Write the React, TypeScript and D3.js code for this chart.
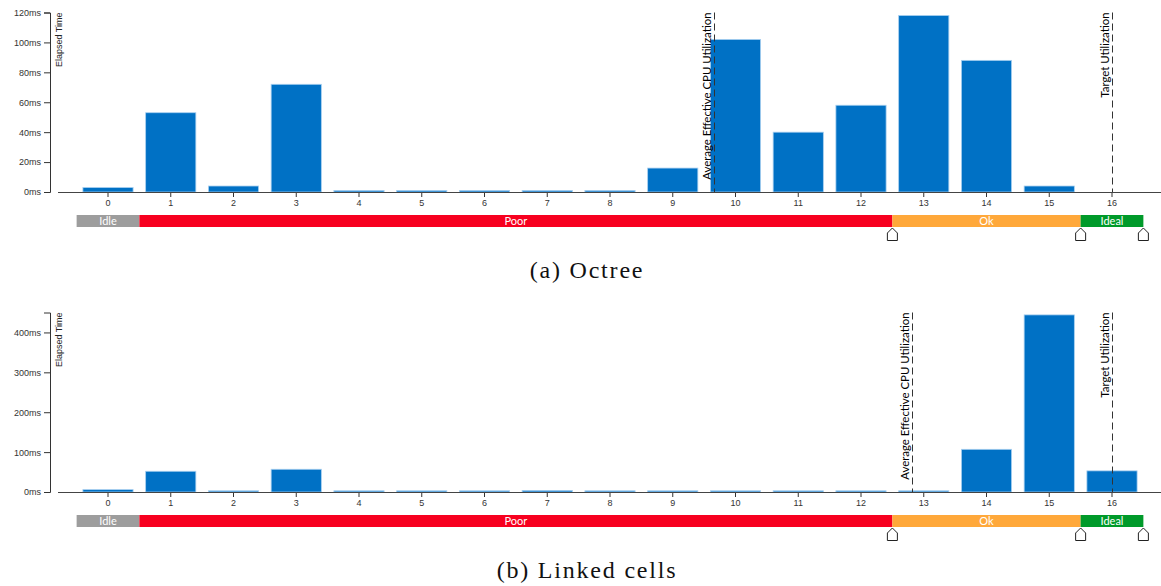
import { useEffect, useRef } from "react";
import * as d3 from "d3";

const threadCounts = ["0", "1", "2", "3", "4", "5", "6", "7", "8", "9", "10", "11", "12", "13", "14", "15", "16"];
const octreeTimes = [3, 53, 4, 72, 1, 1, 1, 1, 1, 16, 102, 40, 58, 118, 88, 4, 0];
const linkedCellsTimes = [6, 52, 3, 57, 3, 3, 3, 4, 3, 3, 3, 3, 3, 3, 107, 444, 53];
const octreeTicks = [0, 20, 40, 60, 80, 100, 120];
const linkedCellsTicks = [0, 100, 200, 300, 400];
const yMaxima = [120, 450];
const avgUtilization = [9.66, 12.82];
const targetUtilization = 16;
const zoneNames = ["Idle", "Poor", "Ok", "Ideal"];
const zoneBounds = [-0.5, 0.5, 12.5, 15.5, 16.5];
const zoneColors = ["#9d9d9d", "#f7001f", "#ffa83a", "#009a2a"];
const markerPositions = [12.5, 15.5, 16.5];
const captions = ["(a) Octree", "(b) Linked cells"];

const W = 1161;
const H = 586;
const PANEL_H = 300;
const BASE = 192;
const TOP = 12.5;

export default function App() {
  const ref = useRef<SVGSVGElement>(null);

  useEffect(() => {
    const svg = d3.select(ref.current);
    svg.selectAll("*").remove();

    const x = d3
      .scaleBand()
      .domain(threadCounts)
      .range([76.625, 1143.375])
      .paddingInner(0.2)
      .paddingOuter(0.1);
    const half = x.bandwidth() / 2;
    // continuous position in thread units (for dashed lines and zone edges)
    const xc = d3
      .scaleLinear()
      .domain([0, 16])
      .range([(x("0") as number) + half, (x("16") as number) + half]);

    const panels = [
      { values: octreeTimes, ticks: octreeTicks, max: yMaxima[0], avg: avgUtilization[0], caption: captions[0] },
      { values: linkedCellsTimes, ticks: linkedCellsTicks, max: yMaxima[1], avg: avgUtilization[1], caption: captions[1] },
    ];

    panels.forEach((p, k) => {
      const g = svg.append("g").attr("transform", `translate(0,${k * PANEL_H})`);
      const y = d3.scaleLinear().domain([0, p.max]).range([BASE, TOP]);

      // bars
      g.selectAll("rect.bar")
        .data(p.values)
        .join("rect")
        .attr("class", "bar")
        .attr("x", (d, i) => x(threadCounts[i]) as number)
        .attr("y", (d) => y(d))
        .attr("width", x.bandwidth())
        .attr("height", (d) => BASE - y(d))
        .attr("fill", "#0071c5")
        .attr("stroke", (d) => (d > 0 ? "#a9d0f0" : "none"))
        .attr("stroke-width", 0.8);

      // y axis
      const ya = g
        .append("g")
        .attr("transform", "translate(50,0)")
        .call(
          d3
            .axisLeft(y)
            .tickValues(p.ticks)
            .tickFormat((d) => `${d}ms`)
        );
      ya.attr("font-family", "'Liberation Sans', Arial, sans-serif")
        .attr("font-size", 9)
        .style("color", "#333");

      g.append("text")
        .attr("transform", `translate(62,${TOP}) rotate(-90)`)
        .attr("text-anchor", "end")
        .attr("font-family", "'Liberation Sans', Arial, sans-serif")
        .attr("font-size", 9)
        .attr("fill", "#222")
        .text("Elapsed Time");

      // x axis
      const xa = g
        .append("g")
        .attr("transform", `translate(0,${BASE})`)
        .call(d3.axisBottom(x).tickSize(5).tickSizeOuter(0));
      xa.select(".domain").remove();
      xa.attr("font-family", "'Liberation Sans', Arial, sans-serif")
        .attr("font-size", 9)
        .style("color", "#333");
      g.append("line")
        .attr("x1", 58)
        .attr("x2", W)
        .attr("y1", BASE + 0.5)
        .attr("y2", BASE + 0.5)
        .attr("stroke", "#444");

      // utilization markers
      const marks = [
        { v: p.avg, label: "Average Effective CPU Utilization" },
        { v: targetUtilization, label: "Target Utilization" },
      ];
      marks.forEach((m) => {
        const px = Math.round(xc(m.v)) + 0.5;
        g.append("line")
          .attr("x1", px)
          .attr("x2", px)
          .attr("y1", TOP)
          .attr("y2", BASE)
          .attr("stroke", "#333")
          .attr("stroke-dasharray", "7,4");
        g.append("text")
          .attr("transform", `translate(${px - 4},${TOP}) rotate(-90)`)
          .attr("text-anchor", "end")
          .attr("font-family", "Lato, sans-serif")
          .attr("font-size", 11.4)
          .attr("fill", "#000")
          .text(m.label);
      });

      // utilization zones
      const zones = zoneNames.map((name, i) => ({
        name,
        x0: xc(zoneBounds[i]),
        x1: xc(zoneBounds[i + 1]),
        color: zoneColors[i],
      }));
      g.selectAll("rect.zone")
        .data(zones)
        .join("rect")
        .attr("class", "zone")
        .attr("x", (d) => d.x0)
        .attr("y", BASE + 23)
        .attr("width", (d) => d.x1 - d.x0)
        .attr("height", 12)
        .attr("fill", (d) => d.color);
      g.selectAll("text.zone")
        .data(zones)
        .join("text")
        .attr("class", "zone")
        .attr("x", (d) => (d.x0 + d.x1) / 2)
        .attr("y", BASE + 29)
        .attr("dy", "0.36em")
        .attr("text-anchor", "middle")
        .attr("font-family", "Lato, sans-serif")
        .attr("font-size", 11)
        .attr("fill", "#fff")
        .text((d) => d.name);

      g.selectAll("path.marker")
        .data(markerPositions)
        .join("path")
        .attr("class", "marker")
        .attr("d", (v) => {
          const cx = xc(v);
          const t = BASE + 36;
          return `M${cx},${t} L${cx + 5},${t + 5} L${cx + 5},${t + 12.5} L${cx - 5},${t + 12.5} L${cx - 5},${t + 5} Z`;
        })
        .attr("fill", "#fff")
        .attr("stroke", "#222")
        .attr("stroke-width", 1);

      // caption
      g.append("text")
        .attr("x", 587)
        .attr("y", 278)
        .attr("text-anchor", "middle")
        .attr("font-family", "'Liberation Serif', 'Times New Roman', serif")
        .attr("font-size", 24)
        .attr("letter-spacing", 1.8)
        .attr("fill", "#111")
        .text(p.caption);
    });
  }, []);

  return (
    <svg
      ref={ref}
      width={W}
      height={H}
      style={{ position: "absolute", left: 0, top: 0, background: "#fff" }}
    />
  );
}
